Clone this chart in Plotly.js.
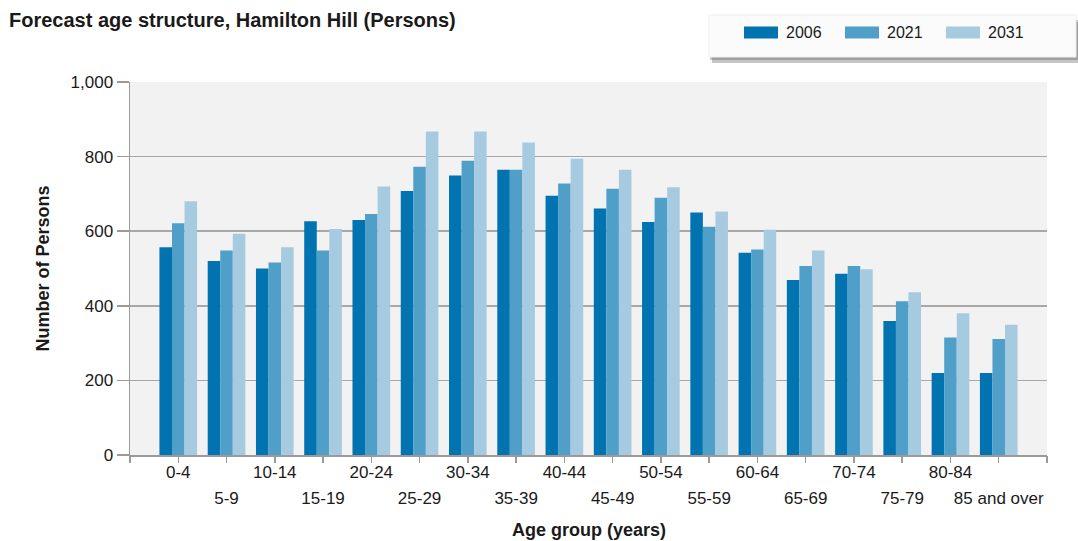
<!DOCTYPE html>
<html>
<head>
<meta charset="utf-8">
<script src="https://cdn.plot.ly/plotly-3.0.1.min.js"></script>
<style>html,body{margin:0;padding:0;background:#fff;}#chart{width:1078px;height:541px;}</style>
</head>
<body>
<div id="chart"></div>
<script>
const categories = ["0-4","5-9","10-14","15-19","20-24","25-29","30-34","35-39","40-44","45-49","50-54","55-59","60-64","65-69","70-74","75-79","80-84","85 and over"];
const seriesNames = ["2006","2021","2031"];
const values2006 = [557,520,500,627,630,708,749,765,695,661,625,650,542,469,486,359,220,220];
const values2021 = [621,548,516,548,646,773,789,765,728,714,690,612,551,507,507,412,315,311];
const values2031 = [680,593,557,606,720,867,867,838,794,765,718,653,604,548,498,436,380,349];
const yTicks = [0,200,400,600,800,1000];
const colors = ["#0073b0","#509fc8","#a6cbe1"];

const W = 1078, H = 541;
const L = 130, R = 1047, T = 82, B = 455;
const px = x => (x - L) / (R - L);
const py = y => (B - y) / (B - T);

const seriesValues = [values2006, values2021, values2031];
const traces = seriesNames.map((n, i) => ({
  type: 'bar', name: n, x: categories, y: seriesValues[i],
  marker: {color: colors[i], line: {width: 0}},
  xaxis: 'x', yaxis: 'y', hoverinfo: 'x+y+name'
}));

const idx = categories.map((c, i) => i);
const evenCats = categories.filter((c, i) => i % 2 === 0);
const allTickVals = [-1].concat(idx, [categories.length]);
const oddText = [''].concat(categories.map((c, i) => i % 2 === 1 ? c : ''), ['']);

const font = 'Liberation Sans, Arial, sans-serif';
const txt = '#1a1a1a';

const shapes = [];
const annotations = [];
shapes.push({type:'rect', xref:'paper', yref:'paper', x0:px(712), x1:px(1078), y0:py(63), y1:py(22), fillcolor:'rgba(90,90,90,0.35)', line:{width:0}, layer:'above'});
shapes.push({type:'rect', xref:'paper', yref:'paper', x0:px(710), x1:px(1078), y0:py(60), y1:py(20), fillcolor:'rgba(90,90,90,0.35)', line:{width:0}, layer:'above'});
shapes.push({type:'rect', xref:'paper', yref:'paper', x0:px(709), x1:px(1076), y0:py(57), y1:py(15), fillcolor:'#fbfbfb', line:{width:1, color:'#eeeeee'}, layer:'above'});
const swX = [744, 845, 946];
seriesNames.forEach((n, i) => {
  shapes.push({type:'rect', xref:'paper', yref:'paper', x0:px(swX[i]), x1:px(swX[i]+34), y0:py(38.5), y1:py(26.5), fillcolor:colors[i], line:{width:0}, layer:'above'});
  annotations.push({xref:'paper', yref:'paper', x:px(swX[i]+40), y:py(32.5), xanchor:'left', yanchor:'middle', text:n, showarrow:false, font:{family:font, size:16, color:txt}});
});
// x axis title
annotations.push({xref:'paper', yref:'paper', x:0.5, y:py(530), xanchor:'center', yanchor:'middle', text:'<b>Age group (years)</b>', showarrow:false, font:{family:font, size:18, color:txt}});

const layout = {
  width: W, height: H,
  margin: {l: L, r: W - R, t: T, b: H - B, pad: 0},
  paper_bgcolor: '#ffffff',
  plot_bgcolor: '#f2f2f2',
  showlegend: false,
  barmode: 'group',
  bargap: 0.22,
  bargroupgap: 0,
  font: {family: font, size: 17, color: txt},
  title: {text: '<b>Forecast age structure, Hamilton Hill (Persons)</b>', font: {family: font, size: 20, color: txt}, x: 9 / W, xref: 'container', xanchor: 'left', y: 1 - 20 / H, yref: 'container', yanchor: 'middle'},
  xaxis: {
    type: 'category', range: [-1, 18], fixedrange: true,
    tickmode: 'array', tickvals: evenCats, ticktext: evenCats,
    ticks: '', showgrid: false, showline: true, linecolor: '#9a9a9a', linewidth: 1.5,
    ticklabelstandoff: 1,
    zeroline: false, tickfont: {family: font, size: 17, color: txt}, automargin: false
  },
  xaxis2: {
    overlaying: 'x', anchor: 'y', side: 'bottom', type: 'linear', range: [-1, 18],
    tickmode: 'array', tickvals: allTickVals, ticktext: oddText,
    ticks: 'outside', ticklen: 7, tickcolor: '#9a9a9a', tickwidth: 1.5,
    ticklabelstandoff: 21,
    showgrid: false, showline: false, zeroline: false,
    tickfont: {family: font, size: 17, color: txt},
    automargin: false
  },
  yaxis: {
    range: [0, 1000], fixedrange: true,
    tickmode: 'array', tickvals: yTicks, tickformat: ',',
    ticks: 'outside', ticklen: 12, tickcolor: '#9a9a9a', tickwidth: 1.5,
    showgrid: true, gridcolor: '#a8a8a8', gridwidth: 1.5,
    showline: true, linecolor: '#9a9a9a', linewidth: 1.5,
    zeroline: false,
    tickfont: {family: font, size: 17, color: txt},
    title: {text: '<b>Number of Persons</b>', font: {family: font, size: 18, color: txt}, standoff: 16},
    automargin: true
  },
  shapes: shapes,
  annotations: annotations
};

traces.push({type: 'scatter', x: [-1], y: [0], xaxis: 'x2', yaxis: 'y', mode: 'markers', marker: {opacity: 0}, hoverinfo: 'skip', showlegend: false});

Plotly.newPlot('chart', traces, layout, {displayModeBar: false, staticPlot: true});
</script>
</body>
</html>
